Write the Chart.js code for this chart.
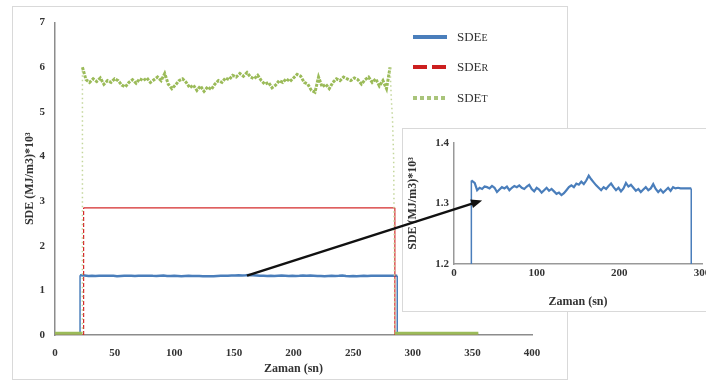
<!DOCTYPE html>
<html>
<head>
<meta charset="utf-8">
<script src="https://cdn.jsdelivr.net/npm/chart.js@4.4.1/dist/chart.umd.min.js"></script>
<style>
  body { margin: 0; background: #fff; }
  #wrap { position: relative; width: 706px; height: 382px; overflow: hidden; background: #fff; }
  #mainFrame { position: absolute; left: 12px; top: 6px; width: 556px; height: 374px; border: 1px solid #d9d9d9; box-sizing: border-box; }
  #mainChart { position: absolute; left: 12px; top: 6px; }
  #insetFrame { position: absolute; left: 402px; top: 128px; width: 330px; height: 184px; border: 1px solid #d9d9d9; box-sizing: border-box; background: #fff; }
  #insetChart { position: absolute; left: 402px; top: 128px; }
  #overlay { position: absolute; left: 0; top: 0; pointer-events: none; }
  .leg { position: absolute; left: 413px; height: 18px; display: flex; align-items: center;
         font-family: "Liberation Serif", "DejaVu Serif", serif; font-size: 13px; color: #333; }
  .leg span.s { display: inline-block; width: 34px; height: 4px; margin-right: 10px; }
  .leg sub { font-size: 10px; vertical-align: -3px; }
</style>
</head>
<body>
<div id="wrap">
  <div id="mainFrame"></div>
  <canvas id="mainChart" width="556" height="374"></canvas>
  <div class="leg" style="top:28px"><span class="s" style="background:#4a7ebb"></span>SDE<sub>E</sub></div>
  <div class="leg" style="top:58px"><span class="s" style="background:repeating-linear-gradient(90deg,#cc1f1f 0 14px,transparent 14px 19px)"></span>SDE<sub>R</sub></div>
  <div class="leg" style="top:89px"><span class="s" style="background:repeating-linear-gradient(90deg,#a9c47a 0 4px,transparent 4px 7px)"></span>SDE<sub>T</sub></div>
  <div id="insetFrame"></div>
  <canvas id="insetChart" width="330" height="184"></canvas>
  <canvas id="overlay" width="706" height="382"></canvas>
</div>
<script>
// SDE_E (blue) - time (sn) and value
const sdeETime = [0, 21, 21, 25, 28, 31, 34, 37, 40, 43, 46, 49, 52, 55, 58, 61, 64, 67, 70, 73, 76, 79, 82, 85, 88, 91, 94, 97,
  100, 103, 106, 109, 112, 115, 118, 121, 124, 127, 130, 133, 136, 139, 142, 145, 148, 151, 154, 157, 160, 163, 166, 169,
  172, 175, 178, 181, 184, 187, 190, 193, 196, 199, 202, 205, 208, 211, 214, 217, 220, 223, 226, 229, 232, 235, 238, 241,
  244, 247, 250, 253, 256, 259, 262, 265, 268, 271, 274, 277, 280, 283, 287, 287, 355];
const sdeEValue = [0, 0, 1.338, 1.334, 1.322, 1.326, 1.324, 1.328, 1.327, 1.325, 1.329, 1.326, 1.319, 1.323, 1.327, 1.325, 1.328,
  1.322, 1.326, 1.329, 1.327, 1.330, 1.326, 1.324, 1.328, 1.331, 1.324, 1.320, 1.326, 1.323, 1.318, 1.322, 1.326, 1.321,
  1.324, 1.320, 1.316, 1.318, 1.314, 1.317, 1.322, 1.327, 1.330, 1.327, 1.333, 1.331, 1.336, 1.332, 1.338, 1.346, 1.340,
  1.335, 1.330, 1.326, 1.322, 1.327, 1.324, 1.329, 1.333, 1.327, 1.322, 1.326, 1.320, 1.325, 1.334, 1.328, 1.331, 1.326,
  1.321, 1.324, 1.319, 1.323, 1.327, 1.322, 1.325, 1.332, 1.324, 1.319, 1.323, 1.318, 1.322, 1.326, 1.321, 1.327, 1.325,
  1.326, 1.325, 1.325, 1.325, 1.325, 1.325, 0, 0];

// SDE_R (red)
const sdeRTime = [0, 24, 24, 285, 285, 355];
const sdeRValue = [0, 0, 2.85, 2.85, 0, 0];

// SDE_T (green)
const sdeTTime = [0, 23, 23, 26, 29, 32, 35, 38, 41, 44, 47, 50, 53, 56, 59, 62, 65, 68, 71, 74, 77, 80, 83, 86, 89, 92, 95, 98,
  101, 104, 107, 110, 113, 116, 119, 122, 125, 128, 131, 134, 137, 140, 143, 146, 149, 152, 155, 158, 161, 164, 167, 170,
  173, 176, 179, 182, 185, 188, 191, 194, 197, 200, 203, 206, 209, 212, 215, 218, 221, 224, 227, 230, 233, 236, 239, 242,
  245, 248, 251, 254, 257, 260, 263, 266, 269, 272, 275, 278, 281, 282, 283, 284, 285, 355];
const sdeTValue = [0.04, 0.04, 6.00, 5.72, 5.66, 5.74, 5.68, 5.76, 5.62, 5.70, 5.66, 5.74, 5.70, 5.60, 5.56, 5.66, 5.72, 5.64,
  5.74, 5.70, 5.76, 5.66, 5.72, 5.78, 5.70, 5.86, 5.62, 5.52, 5.60, 5.70, 5.74, 5.66, 5.54, 5.60, 5.48, 5.58, 5.46, 5.56,
  5.50, 5.62, 5.70, 5.66, 5.76, 5.72, 5.82, 5.78, 5.86, 5.80, 5.88, 5.78, 5.74, 5.82, 5.70, 5.62, 5.66, 5.54, 5.60, 5.70,
  5.66, 5.74, 5.68, 5.76, 5.84, 5.80, 5.66, 5.62, 5.48, 5.44, 5.78, 5.56, 5.62, 5.52, 5.66, 5.74, 5.70, 5.78, 5.74, 5.70,
  5.76, 5.72, 5.62, 5.72, 5.78, 5.66, 5.74, 5.58, 5.70, 5.52, 6.00, 5.30, 4.86, 3.94, 0.04, 0.04];

// arrow from main chart point to inset point
const arrowFrom = { x: 161, y: 1.33 };
const arrowTo = { x: 34, y: 1.305 };

const serif = "'Liberation Serif', 'DejaVu Serif', serif";
const tickFont = { family: serif, size: 11, weight: 'bold' };
const titleFont = { family: serif, size: 12, weight: 'bold' };

function pairs(xs, ys) {
  return xs.map((x, i) => ({ x: x, y: ys[i] }));
}
function isJump(ctx) {
  return Math.abs(ctx.p1.parsed.x - ctx.p0.parsed.x) < 1.5 && Math.abs(ctx.p1.parsed.y - ctx.p0.parsed.y) > 0.3;
}
function isFlat(ctx) {
  return Math.abs(ctx.p1.parsed.y - ctx.p0.parsed.y) < 0.001;
}

const mainChart = new Chart(document.getElementById('mainChart'), {
  type: 'line',
  data: {
    datasets: [
      {
        label: 'SDE_T',
        data: pairs(sdeTTime, sdeTValue),
        borderColor: '#9bbb59',
        borderWidth: 3,
        pointRadius: 0,
        order: 0,
        segment: {
          borderDash: ctx => isJump(ctx) ? [1.5, 3] : (isFlat(ctx) ? [] : [3, 1.2]),
          borderWidth: ctx => isJump(ctx) ? 1.5 : undefined,
          borderColor: ctx => isJump(ctx) ? '#c3d69b' : undefined
        }
      },
      {
        label: 'SDE_R',
        data: pairs(sdeRTime, sdeRValue),
        borderColor: '#d42a2a',
        borderWidth: 1.2,
        pointRadius: 0,
        order: 1,
        segment: {
          borderDash: ctx => isJump(ctx) ? [4, 2] : undefined
        }
      },
      {
        label: 'SDE_E',
        data: pairs(sdeETime, sdeEValue),
        borderColor: '#4a7ebb',
        borderWidth: 2.5,
        pointRadius: 0,
        order: 2,
        segment: {
          borderWidth: ctx => isJump(ctx) ? 1.5 : undefined
        }
      }
    ]
  },
  options: {
    responsive: false,
    animation: false,
    layout: { padding: { left: 0, top: 9, right: 36, bottom: 0 } },
    plugins: { legend: { display: false }, tooltip: { enabled: false } },
    scales: {
      x: {
        type: 'linear', min: 0, max: 400,
        ticks: { stepSize: 50, font: tickFont, color: '#333', padding: 12, maxRotation: 0 },
        grid: { display: false, drawTicks: false },
        border: { display: true, color: '#8c8c8c', width: 1.5 },
        title: { display: true, text: 'Zaman (sn)', font: titleFont, color: '#333', padding: { top: 0, bottom: 4 } },
        afterFit: s => { s.height = 45; }
      },
      y: {
        type: 'linear', min: 0, max: 7,
        ticks: { stepSize: 1, font: tickFont, color: '#333', padding: 10 },
        grid: { display: false, drawTicks: false },
        border: { display: true, color: '#8c8c8c', width: 1.5 },
        title: { display: true, text: 'SDE (MJ/m3)*10³', font: titleFont, color: '#333', padding: { top: 11, bottom: 0 } },
        afterFit: s => { s.width = 43; }
      }
    }
  }
});

function drawArrow(insetChart) {
  const c = document.getElementById('overlay');
  const ctx = c.getContext('2d');
  ctx.clearRect(0, 0, c.width, c.height);
  const x0 = mainChart.scales.x.getPixelForValue(arrowFrom.x) + 12;
  const y0 = mainChart.scales.y.getPixelForValue(arrowFrom.y) + 6;
  const x1 = insetChart.scales.x.getPixelForValue(arrowTo.x) + 402;
  const y1 = insetChart.scales.y.getPixelForValue(arrowTo.y) + 128;
  const ang = Math.atan2(y1 - y0, x1 - x0);
  const head = 11;
  ctx.strokeStyle = '#111';
  ctx.fillStyle = '#111';
  ctx.lineWidth = 2.5;
  ctx.beginPath();
  ctx.moveTo(x0, y0);
  ctx.lineTo(x1 - head * 0.8 * Math.cos(ang), y1 - head * 0.8 * Math.sin(ang));
  ctx.stroke();
  ctx.beginPath();
  ctx.moveTo(x1, y1);
  ctx.lineTo(x1 - head * Math.cos(ang) + 4.5 * Math.sin(ang), y1 - head * Math.sin(ang) - 4.5 * Math.cos(ang));
  ctx.lineTo(x1 - head * Math.cos(ang) - 4.5 * Math.sin(ang), y1 - head * Math.sin(ang) + 4.5 * Math.cos(ang));
  ctx.closePath();
  ctx.fill();
}

const insetChart = new Chart(document.getElementById('insetChart'), {
  type: 'line',
  data: {
    datasets: [
      {
        label: 'SDE_E',
        data: pairs(sdeETime, sdeEValue),
        borderColor: '#4a7ebb',
        borderWidth: 2.2,
        pointRadius: 0,
        segment: {
          borderWidth: ctx => isJump(ctx) ? 1.5 : undefined
        }
      }
    ]
  },
  options: {
    responsive: false,
    animation: false,
    layout: { padding: { left: 0, top: 15, right: 30, bottom: 0 } },
    plugins: { legend: { display: false }, tooltip: { enabled: false } },
    scales: {
      x: {
        type: 'linear', min: 0, max: 300,
        ticks: { stepSize: 100, font: tickFont, color: '#333', padding: 3, maxRotation: 0 },
        grid: { display: false, drawTicks: false },
        border: { display: true, color: '#999', width: 1.5 },
        title: { display: true, text: 'Zaman (sn)', font: titleFont, color: '#333', padding: { top: 0, bottom: 3 } },
        afterFit: s => { s.height = 48; }
      },
      y: {
        type: 'linear', min: 1.2, max: 1.4,
        ticks: { stepSize: 0.1, font: tickFont, color: '#333', padding: 5, callback: v => Number(v).toFixed(1) },
        grid: { display: false, drawTicks: false },
        border: { display: true, color: '#999', width: 1.5 },
        title: { display: true, text: 'SDE (MJ/m3)*10³', font: titleFont, color: '#333', padding: { top: 4, bottom: 0 } },
        afterFit: s => { s.width = 52; }
      }
    }
  },
  plugins: [{ id: 'arrow', afterRender: chart => drawArrow(chart) }]
});
</script>
</body>
</html>
